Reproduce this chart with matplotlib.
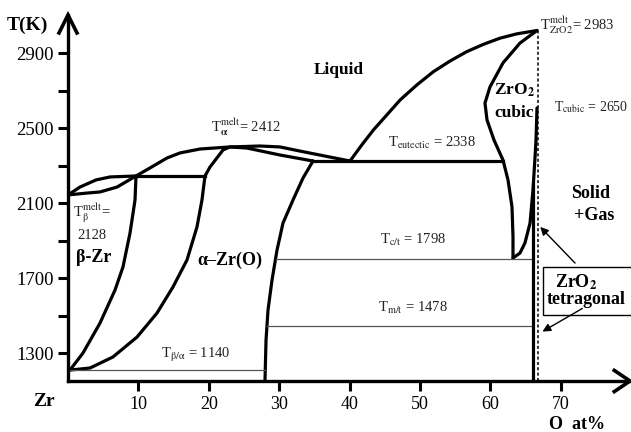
import matplotlib
matplotlib.use("Agg")
import matplotlib.pyplot as plt
import matplotlib.patches as patches

plt.rcParams['font.family'] = ['Liberation Serif', 'DejaVu Serif']
plt.rcParams['mathtext.fontset'] = 'stix'

# phase boundaries: O at% , T(K)
liq_left_x = [0, 1.70, 3.98, 5.97, 9.66, 11.65, 14.06, 15.91, 18.75, 23.01, 27.27, 30.11, 32.95, 37.22, 40.06]
liq_left_t = [2143, 2185, 2223, 2239, 2244, 2287, 2340, 2367, 2388, 2399, 2404, 2399, 2377, 2345, 2324]

beta_sol_x = [0, 2.70, 4.55, 6.96, 9.66]
beta_sol_t = [2143, 2153, 2159, 2185, 2244]

alpha_top_x = [19.46, 20.17, 22.02, 23.01, 25.43, 30.11, 34.80]
alpha_top_t = [2244, 2292, 2383, 2399, 2393, 2356, 2324]

alpha_right_x = [34.80, 33.38, 31.96, 30.54, 29.69, 28.98, 28.41, 28.13, 27.98]
alpha_right_t = [2324, 2233, 2116, 1993, 1849, 1689, 1529, 1369, 1151]

beta_right_x = [9.66, 9.52, 8.81, 7.81, 6.68, 4.55, 2.13, 0.28]
beta_right_t = [2244, 2116, 1940, 1759, 1636, 1460, 1300, 1209]

alpha_left_x = [19.46, 19.03, 18.32, 16.90, 14.91, 12.64, 9.80, 6.39, 3.13, 0.28]
alpha_left_t = [2244, 2116, 1972, 1796, 1652, 1513, 1385, 1279, 1220, 1209]

liq_right_x = [40.06, 41.72, 43.37, 45.27, 47.16, 49.53, 51.89, 54.26, 56.63, 58.99, 61.36, 63.73, 66.62]
liq_right_t = [2324, 2409, 2489, 2569, 2649, 2729, 2800, 2857, 2907, 2946, 2979, 3002, 3020]

cubic_left_x = [66.62, 64.20, 61.79, 59.94, 59.23, 59.52, 60.51, 61.79, 62.50, 63.07, 63.21, 63.21]
cubic_left_t = [3020, 2953, 2847, 2719, 2633, 2543, 2436, 2329, 2223, 2079, 1919, 1807]

cubic_right_x = [63.21, 64.20, 64.91, 65.63, 66.05, 66.34, 66.48, 66.62]
cubic_right_t = [1807, 1833, 1887, 1993, 2169, 2345, 2436, 2607]

# isotherms
t_peritectic, x_peri = 2244, (9.66, 19.46)
t_eutectic, x_eut = 2324, (34.80, 61.79)
t_eutectoid, x_eutd = 1209, (0.28, 27.98)
t_ct, x_ct = 1801, (29.5, 66.1)
t_mt, x_mt = 1444, (28.2, 66.1)
x_zro2 = 66.1
x_stoich = 66.7

y_ticks = [1300, 1500, 1700, 1900, 2100, 2300, 2500, 2700, 2900]
y_labels = ['1300', '', '1700', '', '2100', '', '2500', '', '2900']
x_ticks = [10, 20, 30, 40, 50, 60, 70]

fig = plt.figure(figsize=(6.31, 4.32), dpi=100)
ax = fig.add_axes([68 / 631, 51 / 432, 562 / 631, 366 / 432])
ax.set_xlim(0, 79.83)
ax.set_ylim(1150.7, 3102.7)

lw = 2.3
k = 'black'
for xs, ts in [(liq_left_x, liq_left_t), (beta_sol_x, beta_sol_t), (alpha_top_x, alpha_top_t),
               (alpha_right_x, alpha_right_t), (beta_right_x, beta_right_t),
               (alpha_left_x, alpha_left_t), (liq_right_x, liq_right_t),
               (cubic_left_x, cubic_left_t), (cubic_right_x, cubic_right_t)]:
    ax.plot(xs, ts, color=k, lw=lw, solid_capstyle='round', solid_joinstyle='round')

ax.plot(x_peri, [t_peritectic] * 2, color=k, lw=lw)
ax.plot(x_eut, [t_eutectic] * 2, color=k, lw=lw)
ax.plot(x_eutd, [t_eutectoid] * 2, color='#555555', lw=0.9)
ax.plot(x_ct, [t_ct] * 2, color='#555555', lw=0.9)
ax.plot(x_mt, [t_mt] * 2, color='#555555', lw=0.9)
ax.plot([x_zro2, x_zro2], [1150.7, 2200], color=k, lw=lw)
ax.plot([x_stoich, x_stoich], [1150.7, 3020], color=k, lw=1.1, ls=(0, (2, 1.5)))

# axes look
for s in ['top', 'right']:
    ax.spines[s].set_visible(False)
for s in ['left', 'bottom']:
    ax.spines[s].set_linewidth(2.4)
ax.set_yticks(y_ticks)
ax.set_yticklabels(y_labels, fontsize=13.5)
ax.set_xticks(x_ticks)
ax.set_xticklabels([str(v) for v in x_ticks], fontsize=13)
ax.tick_params(axis='both', direction='out', length=7, width=2.2, pad=3)
ax.tick_params(axis='x', pad=4)

ax.plot([-0.016, 0, 0.016], [0.951, 1.0, 0.951], color=k, lw=2.6, transform=ax.transAxes,
        clip_on=False, solid_joinstyle='miter')
ax.plot([0.972, 1.0, 0.972], [0.029, 0.0, -0.029], color=k, lw=2.6, transform=ax.transAxes,
        clip_on=False, solid_joinstyle='miter')

bold = dict(fontweight='bold', ha='center', va='center', color=k)
ax.text(-5.8, 3049, 'T(K)', fontsize=14, clip_on=False, **bold)
ax.text(-3.4, 1039, 'Zr', fontsize=14, clip_on=False, **bold)
ax.text(72.3, 920, 'O  at%', fontsize=13, clip_on=False, **bold)
ax.text(38.5, 2809, 'Liquid', fontsize=12.5, **bold)
ax.text(63.4, 2703, r'ZrO$_\mathbf{2}$', fontsize=12.5, **bold)
ax.text(63.4, 2580, 'cubic', fontsize=12.5, **bold)
ax.text(74.2, 2153, 'Solid', fontsize=13, **bold)
ax.text(74.8, 2031, '+Gas', fontsize=13, **bold)
ax.text(3.7, 1807, 'β-Zr', fontsize=13, **bold)
ax.text(23.0, 1796, 'α–Zr(O)', fontsize=13, **bold)

reg = dict(ha='center', va='center', color='#222222', fontsize=10.5)
ax.text(25.3, 2505, r'T$^{\rm melt}_{\mathbf{\alpha}}$= 2412', **reg)
ax.text(51.7, 2420, r'T$_{\rm eutectic}$ = 2338', **reg)
ax.text(67.0, 3049, r'T$^{\rm melt}_{\rm ZrO2}$= 2983', clip_on=False,
        **{**reg, 'ha': 'left'})
ax.text(69.0, 2612, r'T$_{\rm cubic}$ = 2650', **{**reg, 'ha': 'left', 'fontsize': 10})
ax.text(0.7, 2047, r'T$^{\rm melt}_{\rm \beta}$=', **{**reg, 'ha': 'left'})
ax.text(1.4, 1929, '2128', **{**reg, 'ha': 'left'})
ax.text(18.2, 1289, r'T$_{\rm \beta/\alpha}$ = 1140', **reg)
ax.text(49.0, 1903, r'T$_{\rm c/t}$ = 1798', **reg)
ax.text(49.0, 1540, r'T$_{\rm m/t}$ = 1478', **reg)

box = patches.Rectangle((67.47, 1503), 14.0, 256, facecolor='white', edgecolor=k,
                        lw=1.0, clip_on=False, zorder=3)
ax.add_patch(box)
ax.text(69.2, 1679, r'ZrO$_\mathbf{2}$', fontsize=13, zorder=4,
        **{**bold, 'ha': 'left'})
ax.text(68.0, 1583, 'tetragonal', fontsize=13, zorder=4, clip_on=False,
        **{**bold, 'ha': 'left'})
ax.annotate('', xy=(66.8, 1983), xytext=(72.3, 1769),
            arrowprops=dict(arrowstyle='-|>', color=k, lw=1.0, mutation_scale=12))
ax.annotate('', xy=(67.05, 1407), xytext=(73.4, 1545),
            arrowprops=dict(arrowstyle='-|>', color=k, lw=1.0, mutation_scale=12))

fig.savefig('out.png', dpi=100)
